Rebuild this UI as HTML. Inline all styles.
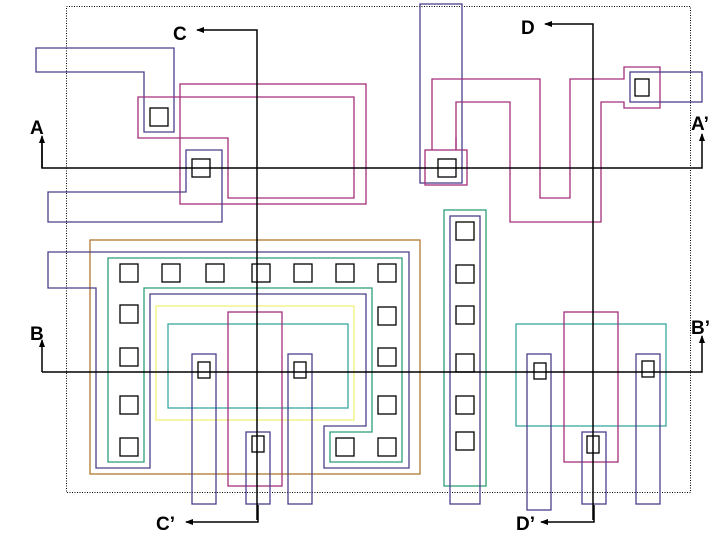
<!DOCTYPE html>
<html><head><meta charset="utf-8"><style>
html,body{margin:0;padding:0;background:#fff;}
svg{display:block;}
text{font-family:"Liberation Sans",sans-serif;font-weight:bold;font-size:19px;fill:#000;}
</style></head><body>
<svg width="720" height="540" viewBox="0 0 720 540" xmlns="http://www.w3.org/2000/svg">
<defs><marker id="ah" markerWidth="8" markerHeight="8" refX="7" refY="4" orient="auto" markerUnits="userSpaceOnUse"><path d="M0,1 L8,4 L0,7 Z" fill="#000"/></marker></defs>
<rect x="66.5" y="6.5" width="624" height="486" fill="none" stroke="#000" stroke-dasharray="1,1.5" stroke-width="1"/>
<g fill="none" stroke-width="1.3">
<!-- top left -->
<polygon points="36,48 174,48 174,132 144,132 144,72 36,72" stroke="#4a3f88"/>
<polygon points="138,97 354,97 354,198 228,198 228,138 138,138" stroke="#a32f7c"/>
<rect x="180" y="84" width="186" height="120" stroke="#a32f7c"/>
<polygon points="186,150 222,150 222,222 48,222 48,192 186,192" stroke="#4a3f88"/>
<!-- top right -->
<rect x="420" y="4" width="42" height="179" stroke="#4a3f88"/>
<rect x="425" y="150" width="42" height="35" stroke="#a32f7c"/>
<polyline points="432,150 432,79 540,79 540,198 570,198 570,79 624,79 624,67 660,67 660,108 624,108 624,102 601,102 601,222 510,222 510,102 456,102 456,150" stroke="#a32f7c"/>
<line x1="456" y1="137" x2="456" y2="150" stroke="#a32f7c"/>
<rect x="630" y="72" width="72" height="30" stroke="#4a3f88"/>
<!-- bottom left -->
<rect x="90" y="240" width="330" height="234" stroke="#b07a30"/>
<polygon points="48,252 409,252 409,468 324,468 324,426 366,426 366,294 150,294 150,468 96,468 96,288 48,288" stroke="#4a3f88"/>
<polygon points="108,258 402,258 402,462 330,462 330,432 372,432 372,288 144,288 144,462 108,462" stroke="#2e9e78"/>
<rect x="156" y="306" width="198" height="114" stroke="#f2f27a"/>
<rect x="168" y="324" width="180" height="84" stroke="#3aa8a0"/>
<rect x="228" y="312" width="54" height="174" stroke="#a32f7c"/>
<rect x="192" y="354" width="24" height="150" stroke="#4a3f88"/>
<rect x="288" y="354" width="24" height="150" stroke="#4a3f88"/>
<rect x="246" y="432" width="24" height="72" stroke="#4a3f88"/>
<!-- bottom middle/right -->
<rect x="444" y="210" width="42" height="276" stroke="#2e9e78"/>
<rect x="450" y="216" width="30" height="288" stroke="#4a3f88"/>
<rect x="516" y="324" width="150" height="102" stroke="#3aa8a0"/>
<rect x="564" y="312" width="54" height="150" stroke="#a32f7c"/>
<rect x="527" y="354" width="24" height="156" stroke="#4a3f88"/>
<rect x="636" y="354" width="24" height="150" stroke="#4a3f88"/>
<rect x="582" y="432" width="24" height="72" stroke="#4a3f88"/>
</g>
<g fill="none" stroke="#000" stroke-width="1.3">
<rect x="150" y="108" width="18" height="18"/>
<rect x="192" y="159" width="18" height="18"/>
<rect x="438" y="159" width="18" height="18"/>
<rect x="635" y="79" width="14" height="17"/>
<rect x="120" y="264" width="18" height="18"/><rect x="162" y="264" width="18" height="18"/><rect x="206" y="264" width="18" height="18"/><rect x="252" y="264" width="18" height="18"/><rect x="294" y="264" width="18" height="18"/><rect x="336" y="264" width="18" height="18"/><rect x="378" y="264" width="18" height="18"/>
<rect x="120" y="305" width="18" height="18"/><rect x="120" y="348" width="18" height="18"/><rect x="120" y="396" width="18" height="18"/><rect x="120" y="438" width="18" height="18"/>
<rect x="378" y="307" width="18" height="18"/><rect x="378" y="348" width="18" height="18"/><rect x="378" y="396" width="18" height="18"/><rect x="378" y="438" width="18" height="18"/>
<rect x="336" y="438" width="18" height="18"/>
<rect x="198" y="362" width="12" height="16"/><rect x="294" y="362" width="12" height="16"/><rect x="252" y="436" width="12" height="16"/>
<rect x="456" y="222" width="18" height="18"/><rect x="456" y="265" width="18" height="18"/><rect x="456" y="306" width="18" height="18"/><rect x="456" y="354" width="18" height="18"/><rect x="456" y="396" width="18" height="18"/><rect x="456" y="432" width="18" height="18"/>
<rect x="534" y="363" width="12" height="16"/><rect x="642" y="361" width="12" height="16"/><rect x="587" y="436" width="12" height="17"/>
</g>
<g fill="none" stroke="#000" stroke-width="1.5">
<polyline points="42,138 42,168 702,168 702,134" marker-end="url(#ah)"/>
<line x1="42" y1="168" x2="42" y2="136" marker-end="url(#ah)"/>
<polyline points="42,372 702,372 702,336" marker-end="url(#ah)"/>
<line x1="42" y1="372" x2="42" y2="340" marker-end="url(#ah)"/>
<polyline points="257,520 257,30 197,30" marker-end="url(#ah)"/>
<polyline points="258,505 258,522 186,522" marker-end="url(#ah)"/>
<polyline points="593,520 593,24 545,24" marker-end="url(#ah)"/>
<polyline points="594,505 594,522 541,522" marker-end="url(#ah)"/>
</g>
<text x="30" y="134">A</text>
<text x="691" y="130">A’</text>
<text x="30" y="340">B</text>
<text x="691" y="334">B’</text>
<text x="173" y="40">C</text>
<text x="156" y="530">C’</text>
<text x="521" y="34">D</text>
<text x="516" y="530">D’</text>
</svg>
</body></html>
